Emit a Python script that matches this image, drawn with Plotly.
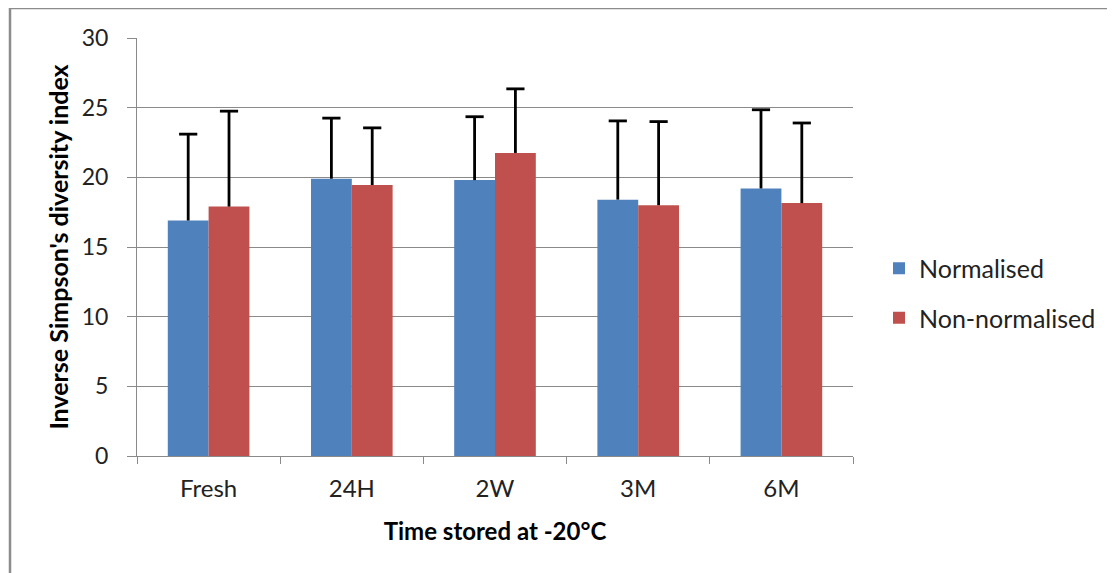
import plotly.graph_objects as go

categories = ["Fresh", "24H", "2W", "3M", "6M"]
normalised = [16.9, 19.9, 19.8, 18.4, 19.2]
normalised_err = [6.2, 4.35, 4.55, 5.65, 5.65]
non_normalised = [17.9, 19.45, 21.75, 18.0, 18.15]
non_normalised_err = [6.85, 4.1, 4.6, 6.0, 5.75]
series_names = ["Normalised", "Non-normalised"]
colors = ["#4F81BD", "#C0504D"]

FONT = "Lato"

fig = go.Figure()
for i, (name, vals, errs) in enumerate([(series_names[0], normalised, normalised_err),
                                        (series_names[1], non_normalised, non_normalised_err)]):
    fig.add_trace(go.Bar(
        x=categories, y=vals, name=name, offsetgroup=str(i), legendgroup=str(i),
        marker=dict(color=colors[i], line=dict(width=0)),
        error_y=dict(type="data", symmetric=False, array=errs, arrayminus=[0]*len(errs),
                     color="black", thickness=2.8, width=0),
    ))
    fig.add_trace(go.Scatter(
        x=categories, y=[v + e for v, e in zip(vals, errs)], mode="markers",
        offsetgroup=str(i), showlegend=False, hoverinfo="skip",
        marker=dict(symbol="line-ew-open", size=13, color="black",
                    line=dict(color="black", width=2.8)),
    ))

# page offset: browser body margin of 8px
OFF = 8
W, H = 1115 - OFF, 573 - OFF
L, T = 137 - OFF, 38 - OFF
pw, ph = 716, 418
R = W - L - pw
B = H - T - ph
def px(x): return (x - OFF - L) / pw
def py(y): return (T + ph - (y - OFF)) / ph

fig.update_layout(
    width=W, height=H,
    margin=dict(l=L, r=R, t=T, b=B, autoexpand=False),
    paper_bgcolor="white", plot_bgcolor="white",
    barmode="group", bargap=0.43, bargroupgap=0,
    scattermode="group", scattergap=0.43,
    font=dict(family=FONT, size=24, color="#222"),
    legend=dict(x=px(879), y=py(293), xanchor="left", yanchor="middle",
                font=dict(family=FONT, size=25, color="#222"),
                tracegroupgap=14, itemwidth=30, bgcolor="rgba(0,0,0,0)"),
    shapes=[
        dict(type="line", xref="paper", yref="paper", x0=px(10), x1=px(10), y0=py(8), y1=py(590),
             line=dict(color="#8c8c8c", width=2.5)),
        dict(type="line", xref="paper", yref="paper", x0=px(10), x1=px(1130), y0=py(8), y1=py(8),
             line=dict(color="#8c8c8c", width=2.5)),
    ],
)
fig.update_yaxes(range=[0, 30], dtick=5, showgrid=True, gridcolor="#8a8a8a", gridwidth=1,
                 showline=True, linecolor="#8a8a8a", linewidth=1,
                 ticks="outside", ticklen=9, tickcolor="#8a8a8a", ticklabelstandoff=14,
                 tickfont=dict(family=FONT, size=23, color="#222"),
                 title=dict(text="<b>Inverse Simpson's diversity index</b>", standoff=5,
                            font=dict(family=FONT, size=25, color="black")),
                 zeroline=False)
fig.update_xaxes(showline=True, linecolor="#8a8a8a", linewidth=1, mirror=False,
                 ticks="outside", ticklen=7, tickcolor="#8a8a8a", tickson="boundaries",
                 ticklabelstandoff=11,
                 tickfont=dict(family=FONT, size=24, color="#222"),
                 title=dict(text="<b>Time stored at -20°C</b>", standoff=22,
                            font=dict(family=FONT, size=24, color="black")))

fig.write_html("out.html")
